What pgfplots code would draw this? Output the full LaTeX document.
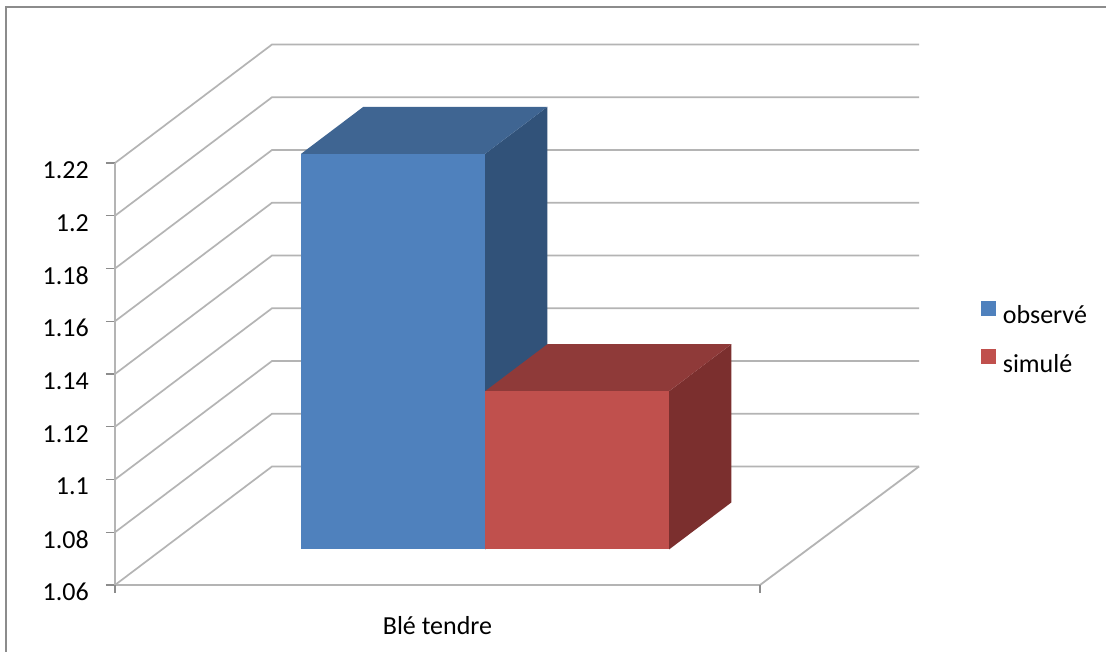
\documentclass[border=0pt]{standalone}
\usepackage{fontspec}
\setmainfont{Carlito}
\usepackage{pgfplots}
\pgfplotsset{compat=1.18}
\definecolor{gridgray}{HTML}{B4B4B4}
\definecolor{tickgray}{HTML}{8C8C8C}
\definecolor{obsfront}{HTML}{4F81BD}
\definecolor{obstop}{HTML}{3F6592}
\definecolor{obsside}{HTML}{315279}
\definecolor{simfront}{HTML}{C0504D}
\definecolor{simtop}{HTML}{8F3A39}
\definecolor{simside}{HTML}{7B2F2E}
% bar heights
\def\obsval{1.21}
\def\simval{1.12}
\begin{document}
\begin{tikzpicture}[x=1pt,y=1pt]
\useasboundingbox (0,0) rectangle (1106,652);
\fill[white] (0,0) rectangle (1106,652);
\draw[tickgray,line width=1.8pt] (6,-2) -- (6,645) -- (1108,645);
\begin{axis}[
  at={(115pt,67pt)}, anchor=south west,
  hide axis, clip=false,
  x={(1pt,0pt)}, y={(157pt,118.5pt)}, z={(0pt,2637.5pt)},
  xmin=0, xmax=647, ymin=0, ymax=1, zmin=1.06, zmax=1.22,
  font=\fontsize{26}{29}\selectfont,
  legend style={at={(axis description cs:1.0769,0.5263)}, anchor=north west,
    draw=none, fill=none, inner sep=0pt, outer sep=0pt,
    nodes={inner sep=0pt, anchor=west}, /tikz/row sep=24pt, /tikz/column sep=7pt},
  legend cell align=left,
  legend image code/.code={\fill[draw=none,#1,draw=none] (0pt,0pt) rectangle (15pt,15pt);},
  grid3/.style={forget plot, no marks, draw=gridgray, line width=1.7pt, line join=miter},
  axisln/.style={forget plot, no marks, draw=gridgray, line width=1.8pt},
  tickln/.style={forget plot, no marks, draw=tickgray, line width=1.3pt},
  face/.style={forget plot, no marks, draw=none, fill=#1},
]
% side and back grid lines, one per tick value
\pgfplotsinvokeforeach{1.06,1.08,1.1,1.12,1.14,1.16,1.18,1.2,1.22}{
  \addplot3[grid3] coordinates {(0,0,#1) (0,1,#1) (647,1,#1)};
  \addplot3[tickln] coordinates {(-9,0,#1) (0,0,#1)};
  \node[anchor=east, inner sep=0pt] at (axis cs:-26,0,#1) [yshift=-7pt] {#1};
}
% floor edges and vertical axis
\addplot3[axisln] coordinates {(0,0,1.06) (645,0,1.06) (647,1,1.06)};
\addplot3[axisln] coordinates {(0,0,1.06) (0,0,1.22)};
\addplot3[tickln] coordinates {(0,0,1.06) (0,0,1.057)};
\addplot3[tickln] coordinates {(645,0,1.06) (645,0,1.057)};

% observed bar
\addplot3[face=obsside] coordinates {(323,0.3,1.06) (323,0.697,1.06) (323,0.697,\obsval) (323,0.3,\obsval)};
\addplot3[face=obstop] coordinates {(139,0.3,\obsval) (323,0.3,\obsval) (323,0.697,\obsval) (139,0.697,\obsval)};
\addplot3[face=obsfront] coordinates {(139,0.3,1.06) (323,0.3,1.06) (323,0.3,\obsval) (139,0.3,\obsval)};
% simulated bar
\addplot3[face=simside] coordinates {(507,0.3,1.06) (507,0.697,1.06) (507,0.697,\simval) (507,0.3,\simval)};
\addplot3[face=simtop] coordinates {(323,0.3,\simval) (507,0.3,\simval) (507,0.697,\simval) (323,0.697,\simval)};
\addplot3[face=simfront] coordinates {(323,0.3,1.06) (507,0.3,1.06) (507,0.3,\simval) (323,0.3,\simval)};

\node[anchor=north, inner sep=0pt] at (axis cs:322.5,0,1.06) [yshift=-31pt] {Blé tendre};

\addlegendimage{fill=obsfront}
\addlegendentry{observé}
\addlegendimage{fill=simfront}
\addlegendentry{simulé}
\end{axis}
\end{tikzpicture}
\end{document}
